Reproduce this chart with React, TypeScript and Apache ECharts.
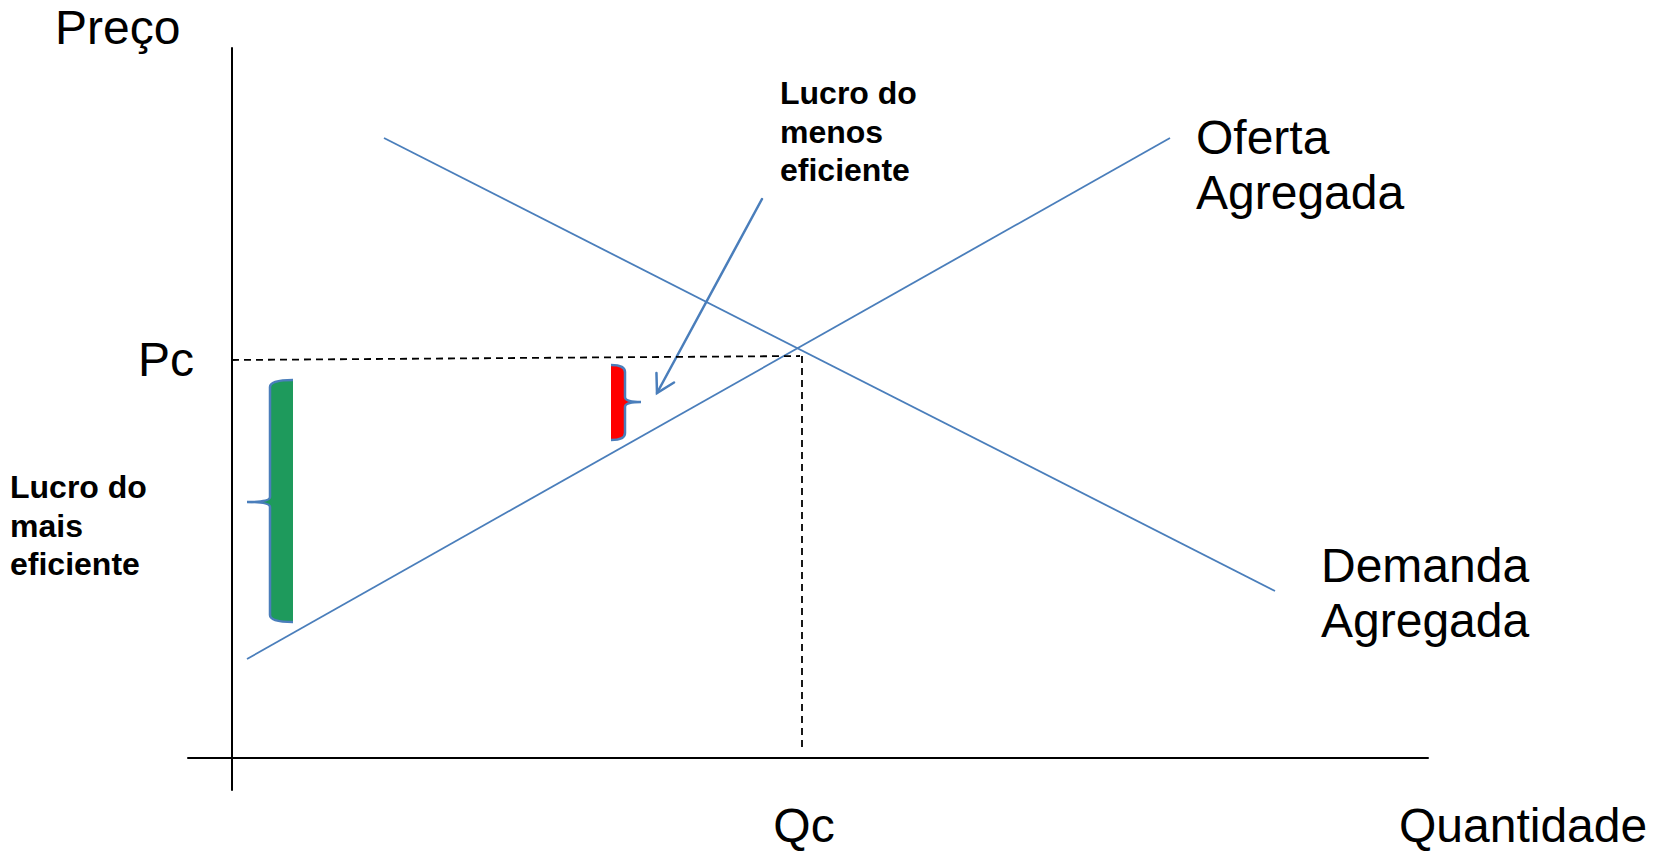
import { useEffect, useRef } from "react";
import * as echarts from "echarts";

// Data (units: quantity on x, price on y)
const supplyLine = [[1.5, 9.9], [93.8, 62.0]];
const demandLine = [[15.2, 62.0], [104.3, 16.7]];
const priceGuide = [[0, 39.8], [56.8, 40.2]];
const quantityGuide = [[57.0, 40.2], [57.0, 0.6]];
// brace bars: xLeft, xRight, yTop, yBottom, tickX, tickY, side (0 = brace on left, 1 = brace on right)
const greenBar = [3.8, 6.1, 37.8, 13.6, 1.5, 25.6, 0];
const redBar = [37.9, 39.3, 39.3, 31.8, 40.9, 35.6, 1];
const arrowLine = [53.0, 55.9, 42.5, 36.5];

const BLUE = "#4a7ebb";
const SANS = '"Liberation Sans", Arial, sans-serif';

function braceRender(fillColor: string) {
  return (params: any, api: any) => {
    const xl = api.value(0), xr = api.value(1), yt = api.value(2), yb = api.value(3);
    const tx = api.value(4), ty = api.value(5), side = api.value(6);
    const pTL = api.coord([xl, yt]);
    const pBR = api.coord([xr, yb]);
    const pT = api.coord([tx, ty]);
    const braceX = side === 0 ? pTL[0] : pBR[0];
    const otherX = side === 0 ? pBR[0] : pTL[0];
    const yTop = pTL[1], yBot = pBR[1], yMid = pT[1], tipX = pT[0];
    const c = 7, m = 5;
    const brace =
      `M${otherX},${yTop} Q${braceX},${yTop} ${braceX},${yTop + c} ` +
      `L${braceX},${yMid - m} Q${braceX},${yMid} ${tipX},${yMid} Q${braceX},${yMid} ${braceX},${yMid + m} ` +
      `L${braceX},${yBot - c} Q${braceX},${yBot} ${otherX},${yBot}`;
    const fillPath = brace + ` L${otherX},${yTop} Z`;
    return {
      type: "group",
      children: [
        { type: "path", shape: { pathData: fillPath }, style: { fill: fillColor, stroke: null } },
        { type: "path", shape: { pathData: brace }, style: { fill: null, stroke: BLUE, lineWidth: 2.5 } },
      ],
    };
  };
}

function arrowRender(params: any, api: any) {
  const p1 = api.coord([api.value(0), api.value(1)]);
  const p2 = api.coord([api.value(2), api.value(3)]);
  const dx = p1[0] - p2[0], dy = p1[1] - p2[1];
  const ang = Math.atan2(dy, dx);
  const L = 20, a = (30 * Math.PI) / 180;
  const a1 = [p2[0] + L * Math.cos(ang - a), p2[1] + L * Math.sin(ang - a)];
  const a2 = [p2[0] + L * Math.cos(ang + a), p2[1] + L * Math.sin(ang + a)];
  const st = { stroke: BLUE, lineWidth: 2.5, fill: null, lineCap: "round" };
  return {
    type: "group",
    children: [
      { type: "line", shape: { x1: p1[0], y1: p1[1], x2: p2[0], y2: p2[1] }, style: st },
      { type: "polyline", shape: { points: [a1, p2, a2] }, style: st },
    ],
  };
}

export default function App() {
  const ref = useRef<HTMLDivElement>(null);
  useEffect(() => {
    if (!ref.current) return;
    const chart = echarts.init(ref.current, undefined, { renderer: "svg" });
    const hidden = {
      axisTick: { show: false },
      axisLabel: { show: false },
      splitLine: { show: false },
    };
    const big = `48px ${SANS}`;
    const bold = `bold 32px ${SANS}`;
    chart.setOption({
      animation: false,
      backgroundColor: "#ffffff",
      grid: { left: 188, top: 48, width: 1240, height: 742, containLabel: false },
      xAxis: {
        type: "value",
        min: -4.4,
        max: 119.6,
        axisLine: { show: true, onZero: true, lineStyle: { color: "#000", width: 2 } },
        ...hidden,
      },
      yAxis: {
        type: "value",
        min: -3.2,
        max: 71.0,
        axisLine: { show: true, onZero: true, lineStyle: { color: "#000", width: 2 } },
        ...hidden,
      },
      series: [
        {
          type: "line",
          name: "Oferta Agregada",
          data: supplyLine,
          symbol: "none",
          lineStyle: { color: BLUE, width: 1.8 },
        },
        {
          type: "line",
          name: "Demanda Agregada",
          data: demandLine,
          symbol: "none",
          lineStyle: { color: BLUE, width: 1.8 },
        },
        {
          type: "line",
          data: priceGuide,
          symbol: "none",
          lineStyle: { color: "#000", width: 1.8, type: [7, 5] },
        },
        {
          type: "line",
          data: quantityGuide,
          symbol: "none",
          lineStyle: { color: "#000", width: 1.8, type: [7, 5] },
        },
        {
          type: "custom",
          renderItem: braceRender("#1e9a5c"),
          data: [greenBar],
        },
        {
          type: "custom",
          renderItem: braceRender("#ff0000"),
          data: [redBar],
        },
        {
          type: "custom",
          renderItem: arrowRender,
          data: [arrowLine],
        },
      ],
      graphic: [
        { type: "text", x: 55, y: 27.4, style: { text: "Preço", font: big, fill: "#000", align: "left", verticalAlign: "middle" } },
        { type: "text", x: 138, y: 359.4, style: { text: "Pc", font: big, fill: "#000", align: "left", verticalAlign: "middle" } },
        { type: "text", x: 804, y: 825, style: { text: "Qc", font: big, lineHeight: 40, fill: "#000", align: "center", verticalAlign: "middle" } },
        { type: "text", x: 1399, y: 825, style: { text: "Quantidade", font: big, lineHeight: 40, fill: "#000", align: "left", verticalAlign: "middle" } },
        { type: "text", x: 1196, y: 109.6, style: { text: "Oferta\nAgregada", font: big, lineHeight: 55.5, fill: "#000", align: "left", verticalAlign: "top" } },
        { type: "text", x: 1321, y: 537.6, style: { text: "Demanda\nAgregada", font: big, lineHeight: 55.5, fill: "#000", align: "left", verticalAlign: "top" } },
        { type: "text", x: 780, y: 73.5, style: { text: "Lucro do\nmenos\neficiente", font: bold, lineHeight: 38.7, fill: "#000", align: "left", verticalAlign: "top" } },
        { type: "text", x: 10, y: 467.5, style: { text: "Lucro do\nmais\neficiente", font: bold, lineHeight: 38.7, fill: "#000", align: "left", verticalAlign: "top" } },
      ],
    });
    return () => chart.dispose();
  }, []);
  return <div ref={ref} style={{ position: "fixed", left: 0, top: 0, width: 1662, height: 853 }} />;
}
